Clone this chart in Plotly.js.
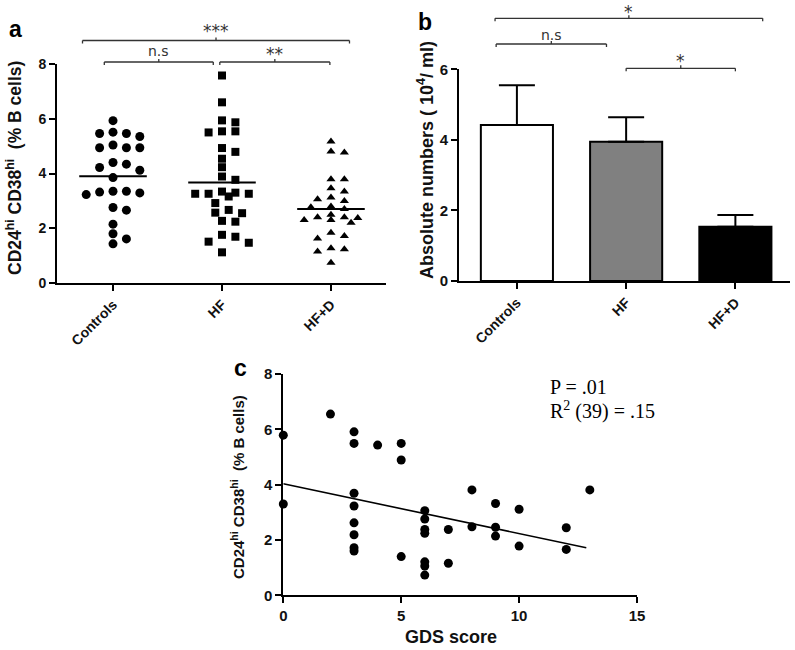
<!DOCTYPE html>
<html>
<head>
<meta charset="utf-8">
<script src="https://cdn.plot.ly/plotly-3.0.1.min.js"></script>
<style>
  html, body { margin: 0; padding: 0; background: #fff; }
  #chart { width: 795px; height: 650px; }
</style>
</head>
<body>
<div id="chart"></div>
<script>
// Data
const groups = ['Controls', 'HF', 'HF+D'];

// panel a: CD24hi CD38hi (% B cells) per subject
const controlsPct = [5.93, 5.35, 5.46, 5.46, 5.51, 4.94, 4.94, 4.94, 5.04, 4.22, 4.40, 4.12, 4.34,
  3.85, 3.35, 3.29, 3.23, 3.32, 3.35, 2.66, 2.76, 2.15, 1.80, 1.43, 1.61];
const hfPct = [7.58, 6.60, 5.87, 5.94, 5.54, 5.50, 5.54, 4.93, 4.79, 4.54, 4.23, 3.89, 3.77, 3.26,
  3.16, 3.30, 3.34, 3.26, 3.26, 2.92, 2.67, 2.55, 2.57, 2.24, 2.27, 1.51, 1.76, 1.69, 1.47, 1.12];
const hfdPct = [5.17, 4.77, 4.80, 3.79, 3.79, 3.46, 3.34, 3.00, 3.12, 3.06, 2.79, 2.70, 2.77, 2.40,
  2.30, 2.37, 2.20, 2.49, 2.30, 2.40, 1.72, 1.63, 1.84, 1.23, 1.15, 1.27, 0.74];
const groupMeans = [3.90, 3.67, 2.70];

// panel b: absolute numbers (10^4/ml), mean + upper error
const absMean = [4.42, 3.95, 1.54];
const absErr = [1.13, 0.69, 0.33];

// panel c: GDS score vs CD24hi CD38hi
const gdsScore = [0, 0, 2, 3, 3, 3, 3, 3, 3, 3, 3, 4, 5, 5, 5, 6, 6, 6, 6, 6, 6, 6,
  7, 7, 8, 8, 9, 9, 9, 10, 10, 12, 12, 13];
const gdsPct = [5.79, 3.30, 6.55, 5.91, 5.49, 3.69, 3.23, 2.62, 2.19, 1.72, 1.60, 5.43, 5.49, 4.89, 1.40,
  3.06, 2.76, 2.38, 2.24, 1.21, 1.06, 0.73, 2.38, 1.16, 3.81, 2.48, 3.32, 2.46, 2.14, 3.11, 1.78,
  2.44, 1.66, 3.81];
const fitX = [0, 12.85];
const fitY = [4.03, 1.72];

// significance comparisons
const compA = [
  { from: 0, to: 2, label: '***' },
  { from: 0, to: 1, label: 'n.s' },
  { from: 1, to: 2, label: '**' }
];
const compB = [
  { from: 0, to: 2, label: '*' },
  { from: 0, to: 1, label: 'n.s' },
  { from: 1, to: 2, label: '*' }
];

// Layout geometry (pixels of the 795x650 page)
const W = 795, H = 650;
const px = v => v / W;
const py = v => 1 - v / H;

const boldFont = 'Liberation Sans, Arial, sans-serif';
const ink = '#111';

const domA = { x: [px(57), px(386)], y: [py(283), py(64)], xr: [-0.514, 2.505], yr: [0, 8] };
const domB = { x: [px(459), px(790)], y: [py(281), py(69.3)], xr: [-0.53, 2.5], yr: [0, 6] };
const domC = { x: [px(283.3), px(637)], y: [py(595.3), py(374)], xr: [0, 15], yr: [0, 8] };

// beeswarm in the style of a dot plot: columns of fixed step, limited width,
// points stack (and may overlap) when the row is full
function swarm(values, center, dom) {
  const pxX = (dom.x[1] - dom.x[0]) * W / (dom.xr[1] - dom.xr[0]);
  const pxY = (dom.y[1] - dom.y[0]) * H / (dom.yr[1] - dom.yr[0]);
  const step = 6.7, maxSteps = 4, ax = 13, ay = 8;
  const order = values.map((v, i) => i).sort((a, b) => values[b] - values[a]);
  const placed = [];
  const xs = new Array(values.length);
  order.forEach(i => {
    const y = values[i] * pxY;
    let best = null, bestScore = -1;
    for (let k = 0; k <= maxSteps * 2; k++) {
      const cand = k === 0 ? 0 : (k % 2 ? 1 : -1) * Math.ceil(k / 2) * step;
      let score = Infinity;
      placed.forEach(p => {
        const d = Math.pow((p.x - cand) / ax, 2) + Math.pow((p.y - y) / ay, 2);
        score = Math.min(score, d);
      });
      if (score >= 1) { best = cand; break; }
      if (score > bestScore) { bestScore = score; best = cand; }
    }
    placed.push({ x: best, y: y });
    xs[i] = center + best / pxX;
  });
  return xs;
}

const groupData = [controlsPct, hfPct, hfdPct];
const symbols = ['circle', 'square', 'triangle-up'];
const sizes = [9, 8, 8];

const traces = [];

groupData.forEach((vals, g) => {
  traces.push({
    x: swarm(vals, g, domA),
    y: vals,
    xaxis: 'x', yaxis: 'y',
    type: 'scatter',
    mode: 'markers',
    cliponaxis: false,
    marker: { symbol: symbols[g], size: sizes[g], color: '#000' },
    hoverinfo: 'y',
    showlegend: false
  });
  traces.push({
    x: [g - 0.31, g + 0.31],
    y: [groupMeans[g], groupMeans[g]],
    xaxis: 'x', yaxis: 'y',
    type: 'scatter',
    mode: 'lines',
    line: { color: '#000', width: 2 },
    hoverinfo: 'skip',
    showlegend: false
  });
});

traces.push({
  x: [0, 1, 2],
  y: absMean,
  xaxis: 'x2', yaxis: 'y2',
  type: 'bar',
  width: 0.66,
  marker: { color: ['#ffffff', '#808080', '#000000'], line: { color: '#000', width: 2 } },
  error_y: { type: 'data', symmetric: false, array: absErr, arrayminus: [0, 0, 0],
    color: '#000', thickness: 2, width: 18 },
  showlegend: false
});

traces.push({
  x: gdsScore,
  y: gdsPct,
  xaxis: 'x3', yaxis: 'y3',
  type: 'scatter',
  mode: 'markers',
  cliponaxis: false,
  marker: { symbol: 'circle', size: 9, color: '#000' },
  showlegend: false
});
traces.push({
  x: fitX,
  y: fitY,
  xaxis: 'x3', yaxis: 'y3',
  type: 'scatter',
  mode: 'lines',
  line: { color: '#000', width: 1.6 },
  hoverinfo: 'skip',
  showlegend: false
});

function axisStyle(extra) {
  return Object.assign({
    showline: true, linecolor: '#000', linewidth: 2,
    ticks: 'outside', ticklen: 6, tickwidth: 2, tickcolor: '#000',
    showgrid: false, zeroline: false, fixedrange: true,
    layer: 'below traces',
    tickfont: { family: boldFont, size: 14, color: ink, weight: 'bold' }
  }, extra);
}

// brackets: horizontal line, end ticks down, middle tick up
const shapes = [];
const annotations = [];
function bracket(xref, x0, x1, yPx, textPx, label) {
  const lineStyle = { color: '#333', width: 1.3 };
  const mid = (x0 + x1) / 2;
  const isStars = label.indexOf('*') >= 0;
  shapes.push({ type: 'line', xref, yref: 'paper', x0, x1, y0: py(yPx), y1: py(yPx), line: lineStyle });
  shapes.push({ type: 'line', xref, yref: 'paper', x0, x1: x0, y0: py(yPx), y1: py(yPx + 3), line: lineStyle });
  shapes.push({ type: 'line', xref, yref: 'paper', x0: x1, x1, y0: py(yPx), y1: py(yPx + 3), line: lineStyle });
  shapes.push({ type: 'line', xref, yref: 'paper', x0: mid, x1: mid, y0: py(yPx), y1: py(yPx - 3), line: lineStyle });
  annotations.push({
    xref, yref: 'paper', x: mid, y: py(textPx + (isStars ? 3 : 0)), text: label, showarrow: false,
    xanchor: 'center', yanchor: 'middle',
    font: { family: 'DejaVu Sans, sans-serif', size: isStars ? 17 : 14, color: '#333' }
  });
}

// panel a brackets
const pad = [[-0.28, 0.17], [-0.08, -0.08], [-0.02, -0.01]];
const levelsA = [[40.5, 28], [62, 51], [62, 51]];
compA.forEach((c, i) => bracket('x', c.from + pad[i][0], c.to + pad[i][1], levelsA[i][0], levelsA[i][1], c.label));
// panel b brackets
const padB = [[-0.2, 0.25], [-0.19, -0.18], [0.0, 0.0]];
const levelsB = [[18.3, 9], [44, 35], [68.3, 58]];
compB.forEach((c, i) => bracket('x2', c.from + padB[i][0], c.to + padB[i][1], levelsB[i][0], levelsB[i][1], c.label));

// panel letters and axis titles
const letterFont = { family: boldFont, size: 23, color: '#000', weight: 'bold' };
annotations.push({ xref: 'paper', yref: 'paper', x: px(15), y: py(29), text: 'a', showarrow: false,
  xanchor: 'center', yanchor: 'middle', font: letterFont });
annotations.push({ xref: 'paper', yref: 'paper', x: px(425), y: py(22), text: 'b', showarrow: false,
  xanchor: 'center', yanchor: 'middle', font: letterFont });
annotations.push({ xref: 'paper', yref: 'paper', x: px(240), y: py(368), text: 'c', showarrow: false,
  xanchor: 'center', yanchor: 'middle', font: letterFont });

const ytitle = 'CD24<sup>hi</sup> CD38<sup>hi</sup>  (% B cells)';
annotations.push({ xref: 'paper', yref: 'paper', x: px(14), y: py(168), text: ytitle, textangle: -90,
  showarrow: false, xanchor: 'center', yanchor: 'middle',
  font: { family: boldFont, size: 17.5, color: ink, weight: 'bold' } });
annotations.push({ xref: 'paper', yref: 'paper', x: px(425), y: py(160),
  text: 'Absolute numbers ( 10<sup>4</sup>/ ml)', textangle: -90,
  showarrow: false, xanchor: 'center', yanchor: 'middle',
  font: { family: boldFont, size: 18, color: ink, weight: 'bold' } });
annotations.push({ xref: 'paper', yref: 'paper', x: px(237), y: py(487), text: ytitle, textangle: -90,
  showarrow: false, xanchor: 'center', yanchor: 'middle',
  font: { family: boldFont, size: 15, color: ink, weight: 'bold' } });
annotations.push({ xref: 'paper', yref: 'paper', x: px(451), y: py(637), text: 'GDS score',
  showarrow: false, xanchor: 'center', yanchor: 'middle',
  font: { family: boldFont, size: 18, color: ink, weight: 'bold' } });

// statistics text in panel c
const statFont = { family: 'Liberation Serif, Times New Roman, serif', size: 20, color: '#000' };
annotations.push({ xref: 'paper', yref: 'paper', x: px(548), y: py(387), text: 'P = .01',
  showarrow: false, xanchor: 'left', yanchor: 'middle', font: statFont });
annotations.push({ xref: 'paper', yref: 'paper', x: px(548), y: py(410), text: 'R<sup>2</sup> (39) = .15',
  showarrow: false, xanchor: 'left', yanchor: 'middle', font: statFont });

const catTicks = {
  tickmode: 'array', tickvals: [0, 1, 2], ticktext: groups, tickangle: -45,
  tickfont: { family: boldFont, size: 14, color: ink, weight: 'bold' }
};

const layout = {
  width: W, height: H,
  margin: { l: 0, r: 0, t: 0, b: 0 },
  paper_bgcolor: '#fff', plot_bgcolor: 'rgba(0,0,0,0)',
  showlegend: false,
  xaxis: axisStyle(Object.assign({ domain: domA.x, range: domA.xr, anchor: 'y' }, catTicks)),
  yaxis: axisStyle({ domain: domA.y, range: domA.yr, anchor: 'x', tickvals: [0, 2, 4, 6, 8] }),
  xaxis2: axisStyle(Object.assign({ domain: domB.x, range: domB.xr, anchor: 'y2' }, catTicks)),
  yaxis2: axisStyle({ domain: domB.y, range: domB.yr, anchor: 'x2', tickvals: [0, 2, 4, 6],
    tickfont: { family: boldFont, size: 15, color: ink, weight: 'bold' } }),
  xaxis3: axisStyle({ domain: domC.x, range: domC.xr, anchor: 'y3', tickvals: [0, 5, 10, 15],
    tickfont: { family: boldFont, size: 15, color: ink, weight: 'bold' } }),
  yaxis3: axisStyle({ domain: domC.y, range: domC.yr, anchor: 'x3', tickvals: [0, 2, 4, 6, 8],
    tickfont: { family: boldFont, size: 15, color: ink, weight: 'bold' } }),
  shapes: shapes,
  annotations: annotations
};

Plotly.newPlot('chart', traces, layout, { displayModeBar: false, staticPlot: true });
</script>
</body>
</html>
